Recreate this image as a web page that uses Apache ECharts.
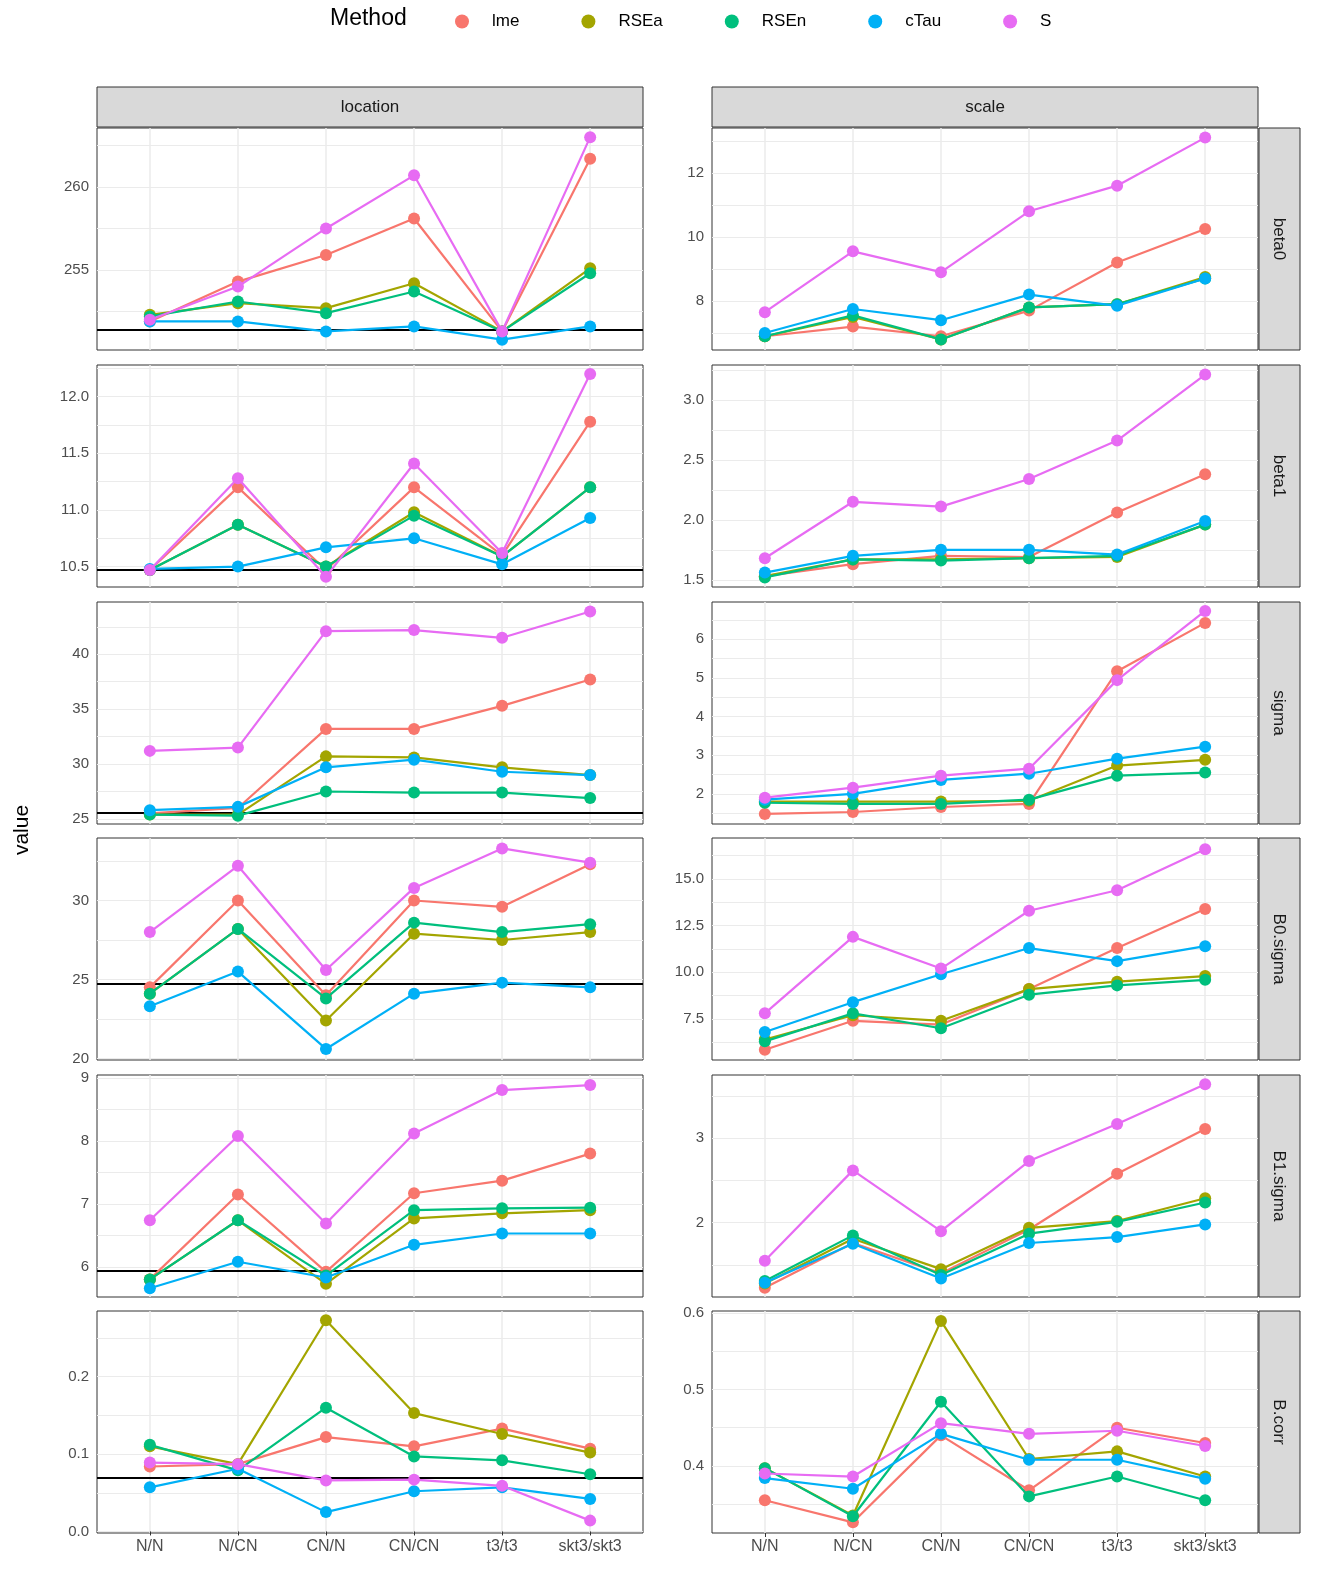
<!DOCTYPE html>
<html>
<head>
<meta charset="utf-8">
<script src="https://cdn.jsdelivr.net/npm/echarts@6/dist/echarts.min.js"></script>
<style>html,body{margin:0;padding:0;background:#fff}#chart{width:1322px;height:1586px}</style>
</head>
<body>
<div id="chart"></div>
<script>
var cats = ["N/N", "N/CN", "CN/N", "CN/CN", "t3/t3", "skt3/skt3"];
var methods = ["lme", "RSEa", "RSEn", "cTau", "S"];
var colors = ["#F8766D", "#A3A500", "#00BF7D", "#00B0F6", "#E76BF3"];
var rowNames = ["beta0", "beta1", "sigma", "B0.sigma", "B1.sigma", "B.corr"];

// values per panel, one row per method (lme, RSEa, RSEn, cTau, S)
var locBeta0 = [
    [251.9, 254.3, 255.9, 258.1, 251.3, 261.7],
    [252.3, 253.0, 252.7, 254.2, 251.3, 255.1],
    [252.2, 253.1, 252.4, 253.7, 251.3, 254.8],
    [251.9, 251.9, 251.3, 251.6, 250.8, 251.6],
    [252.0, 254.0, 257.5, 260.7, 251.3, 263.0]
];
var scaBeta0 = [
    [6.9, 7.2, 6.9, 7.7, 9.2, 10.25],
    [6.9, 7.5, 6.8, 7.8, 7.9, 8.75],
    [6.9, 7.55, 6.8, 7.8, 7.9, 8.7],
    [7.0, 7.75, 7.4, 8.2, 7.85, 8.7],
    [7.65, 9.55, 8.9, 10.8, 11.6, 13.1]
];
var locBeta1 = [
    [10.47, 11.2, 10.47, 11.2, 10.6, 11.78],
    [10.47, 10.87, 10.5, 10.98, 10.59, 11.2],
    [10.47, 10.87, 10.5, 10.95, 10.59, 11.2],
    [10.48, 10.5, 10.67, 10.75, 10.52, 10.93],
    [10.47, 11.28, 10.41, 11.41, 10.62, 12.2]
];
var scaBeta1 = [
    [1.53, 1.63, 1.7, 1.69, 2.06, 2.38],
    [1.53, 1.67, 1.67, 1.68, 1.69, 1.96],
    [1.52, 1.67, 1.66, 1.68, 1.7, 1.96],
    [1.56, 1.7, 1.75, 1.75, 1.71, 1.99],
    [1.68, 2.15, 2.11, 2.34, 2.66, 3.21]
];
var locSigma = [
    [25.5, 26.0, 33.2, 33.2, 35.3, 37.7],
    [25.4, 25.4, 30.7, 30.6, 29.7, 29.0],
    [25.4, 25.3, 27.5, 27.4, 27.4, 26.9],
    [25.8, 26.1, 29.7, 30.4, 29.3, 29.0],
    [31.2, 31.5, 42.1, 42.2, 41.5, 43.9]
];
var scaSigma = [
    [1.48, 1.53, 1.66, 1.74, 5.17, 6.42],
    [1.8, 1.8, 1.8, 1.82, 2.73, 2.88],
    [1.77, 1.74, 1.74, 1.85, 2.47, 2.55],
    [1.85, 2.0, 2.36, 2.52, 2.91, 3.22],
    [1.9, 2.16, 2.47, 2.65, 4.94, 6.73]
];
var locB0 = [
    [24.5, 30.0, 24.0, 30.0, 29.6, 32.3],
    [24.1, 28.2, 22.4, 27.9, 27.5, 28.0],
    [24.1, 28.2, 23.8, 28.6, 28.0, 28.5],
    [23.3, 25.5, 20.6, 24.1, 24.8, 24.5],
    [28.0, 32.2, 25.6, 30.8, 33.3, 32.4]
];
var scaB0 = [
    [5.85, 7.4, 7.2, 9.1, 11.3, 13.4],
    [6.4, 7.7, 7.4, 9.1, 9.5, 9.8],
    [6.3, 7.8, 7.0, 8.8, 9.3, 9.6],
    [6.8, 8.4, 9.9, 11.3, 10.6, 11.4],
    [7.8, 11.9, 10.2, 13.3, 14.4, 16.6]
];
var locB1 = [
    [5.8, 7.15, 5.92, 7.17, 7.37, 7.8],
    [5.8, 6.74, 5.73, 6.77, 6.85, 6.9],
    [5.8, 6.74, 5.86, 6.9, 6.93, 6.94],
    [5.66, 6.08, 5.83, 6.35, 6.53, 6.53],
    [6.74, 8.08, 6.69, 8.12, 8.81, 8.89]
];
var scaB1 = [
    [1.23, 1.76, 1.4, 1.92, 2.58, 3.11],
    [1.28, 1.81, 1.45, 1.94, 2.02, 2.29],
    [1.31, 1.85, 1.38, 1.87, 2.01, 2.24],
    [1.29, 1.75, 1.34, 1.76, 1.83, 1.98],
    [1.55, 2.62, 1.9, 2.73, 3.17, 3.64]
];
var locCorr = [
    [0.084, 0.087, 0.122, 0.11, 0.133, 0.107],
    [0.11, 0.087, 0.273, 0.153, 0.126, 0.102],
    [0.112, 0.079, 0.16, 0.097, 0.092, 0.074],
    [0.057, 0.081, 0.025, 0.052, 0.057, 0.042],
    [0.089, 0.087, 0.066, 0.067, 0.059, 0.014]
];
var scaCorr = [
    [0.355, 0.326, 0.44, 0.368, 0.45, 0.43],
    [0.397, 0.335, 0.59, 0.409, 0.419, 0.386],
    [0.397, 0.334, 0.484, 0.36, 0.386, 0.355],
    [0.384, 0.37, 0.442, 0.408, 0.408, 0.383],
    [0.39, 0.386, 0.456, 0.442, 0.446, 0.426]
];
// true values (black reference lines, location column)
var trueLoc = [251.4, 10.47, 25.6, 24.7, 5.94, 0.066];

var panelData = [
    [locBeta0, scaBeta0], [locBeta1, scaBeta1], [locSigma, scaSigma],
    [locB0, scaB0], [locB1, scaB1], [locCorr, scaCorr]
];
// [min, max, major ticks, minor lines, decimals]
var yScales = [
    [[250.18, 263.55, [255, 260], [252.5, 257.5, 262.5], 0], [6.47, 13.4, [8, 10, 12], [7, 9, 11, 13], 0]],
    [[10.32, 12.28, [10.5, 11, 11.5, 12], [10.75, 11.25, 11.75, 12.25], 1], [1.44, 3.29, [1.5, 2, 2.5, 3], [1.75, 2.25, 2.75, 3.25], 1]],
    [[24.54, 44.76, [25, 30, 35, 40], [27.5, 32.5, 37.5, 42.5], 0], [1.22, 6.96, [2, 3, 4, 5, 6], [1.5, 2.5, 3.5, 4.5, 5.5, 6.5], 0]],
    [[19.9, 33.96, [20, 25, 30], [22.5, 27.5, 32.5], 0], [5.3, 17.2, [7.5, 10, 12.5, 15], [6.25, 8.75, 11.25, 13.75, 16.25], 1]],
    [[5.52, 9.05, [6, 7, 8, 9], [6.5, 7.5, 8.5], 0], [1.12, 3.75, [2, 3], [1.5, 2.5, 3.5], 0]],
    [[-0.002, 0.285, [0, 0.1, 0.2], [0.05, 0.15, 0.25], 1], [0.312, 0.603, [0.4, 0.5, 0.6], [0.35, 0.45, 0.55], 1]]
];

var colLeft = [97, 712];
var panelW = 546;
var rowTop = [128, 365, 602, 838, 1075, 1311];
var panelH = 222;

var grids = [], xAxes = [], yAxes = [], series = [], graphics = [];
var gi = 0;
for (var r = 0; r < 6; r++) {
    for (var c = 0; c < 2; c++) {
        var ys = yScales[r][c];
        grids.push({
            left: colLeft[c], top: rowTop[r], width: panelW, height: panelH,
            show: true, borderColor: '#333', borderWidth: 1, backgroundColor: '#fff'
        });
        xAxes.push({
            gridIndex: gi, type: 'value', min: -0.6, max: 5.6,
            axisLine: {show: false},
            axisTick: {show: r == 5, length: 4, lineStyle: {color: '#333'}, customValues: [0, 1, 2, 3, 4, 5]},
            axisLabel: {show: r == 5, customValues: [0, 1, 2, 3, 4, 5], fontSize: 16, color: '#4d4d4d', margin: 6,
                formatter: function (v) { return cats[Math.round(v)]; }},
            splitLine: {show: true, lineStyle: {color: '#ebebeb', width: 1.5}}
        });
        (function (dec) {
            yAxes.push({
                gridIndex: gi, type: 'value', min: ys[0], max: ys[1],
                axisLine: {show: false},
                axisTick: {show: false, customValues: ys[2].concat(ys[3])},
                axisLabel: {customValues: ys[2], fontSize: 15, color: '#4d4d4d', margin: 8,
                    formatter: function (v) { return v.toFixed(dec); }},
                splitLine: {show: true, lineStyle: {color: '#ebebeb', width: 1}}
            });
        })(ys[4]);
        for (var m = 0; m < 5; m++) {
            var vals = panelData[r][c][m];
            var s = {
                name: methods[m], type: 'line', xAxisIndex: gi, yAxisIndex: gi,
                data: vals.map(function (v, i) { return [i, v]; }),
                symbol: 'circle', symbolSize: 12, z: 3 + m,
                itemStyle: {color: colors[m]},
                lineStyle: {color: colors[m], width: 2.2},
                animation: false
            };
            if (m == 0 && c == 0) {
                s.markLine = {
                    silent: true, symbol: 'none', label: {show: false},
                    lineStyle: {color: '#000', width: 2.2, type: 'solid'},
                    data: [{yAxis: trueLoc[r]}], z: 2
                };
            }
            series.push(s);
        }
        gi++;
    }
    // right strip
    graphics.push({type: 'rect', shape: {x: 1259, y: rowTop[r], width: 41, height: panelH},
        style: {fill: '#d9d9d9', stroke: '#333', lineWidth: 1}});
    graphics.push({type: 'text', x: 1279, y: rowTop[r] + panelH / 2, rotation: -Math.PI / 2,
        style: {text: rowNames[r], fontSize: 17, fill: '#1a1a1a', align: 'center', verticalAlign: 'middle'}});
}
// top strips
['location', 'scale'].forEach(function (t, c) {
    graphics.push({type: 'rect', shape: {x: colLeft[c], y: 87, width: panelW, height: 40},
        style: {fill: '#d9d9d9', stroke: '#333', lineWidth: 1}});
    graphics.push({type: 'text', x: colLeft[c] + panelW / 2, y: 107,
        style: {text: t, fontSize: 17, fill: '#1a1a1a', align: 'center', verticalAlign: 'middle'}});
});
graphics.push({type: 'text', x: 22, y: 830, rotation: Math.PI / 2,
    style: {text: 'value', fontSize: 21, fill: '#000', align: 'center', verticalAlign: 'middle'}});
graphics.push({type: 'text', x: 330, y: 19,
    style: {text: 'Method', fontSize: 23, fill: '#000', verticalAlign: 'middle'}});

var option = {
    backgroundColor: '#fff',
    textStyle: {fontFamily: 'Liberation Sans, Arial, sans-serif'},
    animation: false,
    legend: {
        data: methods, left: 450, top: 8, icon: 'circle', itemWidth: 14, itemHeight: 14,
        itemGap: 62, textStyle: {fontSize: 17, color: '#000', padding: [0, 0, 0, 18]}
    },
    grid: grids, xAxis: xAxes, yAxis: yAxes, series: series, graphic: graphics
};
var chart = echarts.init(document.getElementById('chart'));
chart.setOption(option);
</script>
</body>
</html>
